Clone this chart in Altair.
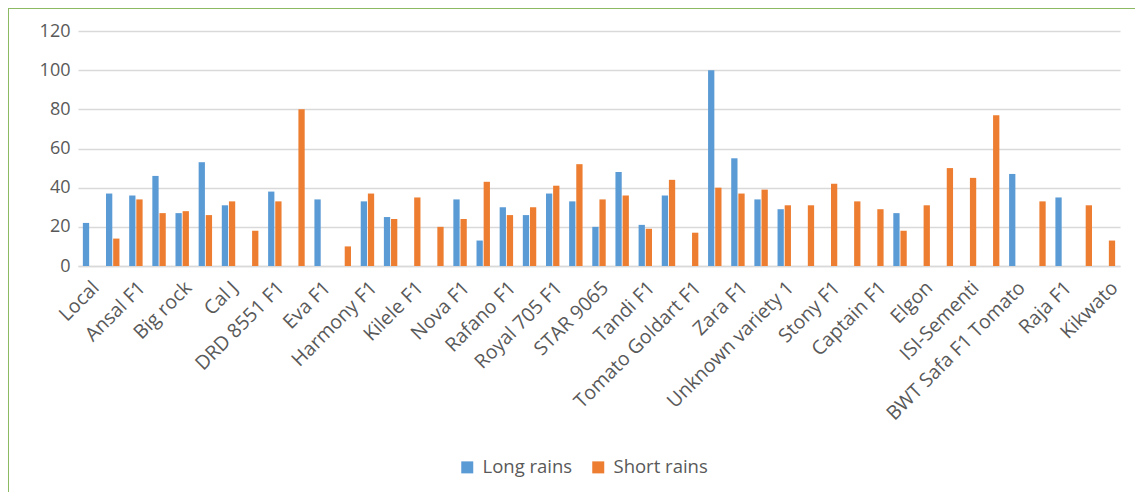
import json
import altair as alt
import pandas as pd

# 45 category slots; only every other one is labelled in the reference
tick_labels = [
    "Local", "", "Ansal F1", "", "Big rock", "", "Cal J", "", "DRD 8551 F1", "",
    "Eva F1", "", "Harmony F1", "", "Kilele F1", "", "Nova F1", "", "Rafano F1", "",
    "Royal 705 F1", "", "STAR 9065", "", "Tandi F1", "", "Tomato Goldart F1", "",
    "Zara F1", "", "Unknown variety 1", "", "Stony F1", "", "Captain F1", "",
    "Elgon", "", "ISI-Sementi", "", "BWT Safa F1 Tomato", "", "Raja F1", "", "Kikwato",
]

long_rains = [
    22, 37, 36, 46, 27, 53, 31, None, 38, None,
    34, None, 33, 25, None, None, 34, 13, 30, 26,
    37, 33, 20, 48, 21, 36, None, 100, 55, 34,
    29, None, None, None, None, 27, None, None, None, None,
    47, None, 35, None, None,
]

short_rains = [
    None, 14, 34, 27, 28, 26, 33, 18, 33, 80,
    None, 10, 37, 24, 35, 20, 24, 43, 26, 30,
    41, 52, 34, 36, 19, 44, 17, 40, 37, 39,
    31, 31, 42, 33, 29, 18, 31, 50, 45, 77,
    None, 33, None, 31, 13,
]

series_names = ["Long rains", "Short rains"]
series_colors = ["#5B9BD5", "#ED7D31"]

rows = []
for name, vals in zip(series_names, [long_rains, short_rains]):
    for i, v in enumerate(vals):
        if v is not None:
            rows.append({"pos": i, "series": name, "value": v})
df = pd.DataFrame(rows)

label_expr = json.dumps(tick_labels) + "[datum.value]"
FONT = "Open Sans"
GREY = "#595959"

bars = alt.Chart(df).mark_bar().encode(
    x=alt.X(
        "pos:O",
        scale=alt.Scale(domain=list(range(len(tick_labels))), paddingInner=0.42, paddingOuter=0.21),
        axis=alt.Axis(
            title=None,
            labelExpr=label_expr,
            labelAngle=-45,
            labelFontSize=19.5,
            labelFont=FONT,
            labelColor=GREY,
            labelLimit=400,
            ticks=False,
            domain=True,
            domainColor="#D9D9D9",
            domainWidth=1.5,
            labelPadding=12,
            labelOverlap=False,
        ),
    ),
    xOffset=alt.XOffset("series:N", scale=alt.Scale(domain=series_names, paddingInner=0.12)),
    y=alt.Y(
        "value:Q",
        scale=alt.Scale(domain=[0, 120]),
        axis=alt.Axis(
            title=None,
            values=[0, 20, 40, 60, 80, 100, 120],
            labelFontSize=18,
            labelFont=FONT,
            labelColor=GREY,
            ticks=False,
            domain=False,
            gridColor="#D9D9D9",
            gridWidth=1.5,
            labelPadding=8,
        ),
    ),
    color=alt.Color(
        "series:N",
        scale=alt.Scale(domain=series_names, range=series_colors),
        legend=alt.Legend(
            title=None,
            orient="none",
            direction="horizontal",
            legendX=380,
            legendY=427,
            symbolType="square",
            symbolSize=144,
            symbolStrokeWidth=0,
            labelFontSize=18.5,
            labelFont=FONT,
            labelColor=GREY,
            labelOffset=6,
            columnPadding=16,
        ),
    ),
)

border = alt.Chart(alt.Data(values=[{"k": 1}])).mark_rect(
    filled=False, stroke="#8CBA64", strokeWidth=2
).encode(
    x=alt.value(-70),
    y=alt.value(-23),
    x2=alt.value(1200),
    y2=alt.value(600),
)

chart = alt.layer(bars, border).properties(
    width=1042,
    height=235,
    autosize=alt.AutoSizeParams(type="none"),
    padding={"left": 70, "top": 23, "right": 15, "bottom": 226},
).configure_view(stroke=None)

chart.save("out.html", embed_options={"renderer": "svg", "actions": False})
